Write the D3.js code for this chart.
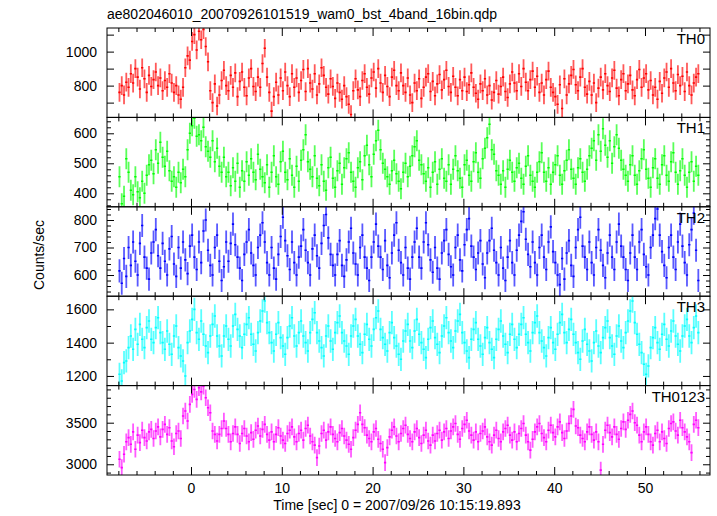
<!DOCTYPE html>
<html><head><meta charset="utf-8">
<script src="https://cdn.jsdelivr.net/npm/d3@7"></script>
<style>body{margin:0;background:#fff}svg{display:block}</style>
</head><body>
<script>
const title = "ae802046010_20070926101519_wam0_bst_4band_16bin.qdp";
const xLabel = "Time [sec] 0 = 2007/09/26 10:15:19.893";
const yLabel = "Counts/sec";
const bandNames = ["TH0", "TH1", "TH2", "TH3", "TH0123"];
const bandColors = ["#ff0000", "#00ff00", "#0000ff", "#00ffff", "#ff00ff"];
const binStart = -8, binSize = 0.25;

const th0 = [
760,800,745,820,790,870,815,900,850,780,905,840,760,860,795,835,
880,800,845,770,830,790,870,815,760,800,745,720,790,905,975,950,
1060,1100,1010,1120,1070,1130,1030,940,770,700,810,680,745,830,890,800,
770,860,790,875,735,825,880,790,740,845,900,795,765,850,790,930,
1020,850,760,650,735,820,745,845,770,880,800,735,870,790,845,760,
830,895,765,900,815,780,870,745,810,905,860,790,750,840,795,725,
815,760,720,800,735,690,630,770,840,775,735,830,870,790,750,845,
880,785,900,815,760,860,795,735,850,890,800,770,875,800,760,845,
745,700,815,770,840,725,790,850,870,765,825,740,810,865,775,835,
890,795,760,855,790,740,835,770,850,765,805,875,790,755,720,810,
770,840,745,800,715,760,830,750,795,850,765,730,810,880,815,770,
870,795,900,820,770,835,885,790,855,760,815,745,835,885,790,760,
735,690,805,665,840,745,810,860,895,805,770,850,900,790,750,825,
745,815,700,785,850,775,870,800,765,845,890,785,740,835,870,770,
810,860,775,740,835,895,790,845,870,775,830,745,790,720,825,755,
845,880,790,900,815,770,865,800,855,765,880,800,745,815,850,870];

const th1 = [
455,365,390,515,470,410,395,455,405,385,440,400,460,495,510,465,
545,500,570,520,490,540,475,440,455,420,470,435,480,455,545,600,
625,650,590,595,575,620,555,540,520,575,505,550,490,470,520,455,
470,425,485,440,500,420,475,440,505,460,515,470,445,530,480,455,
435,495,420,470,525,455,430,505,540,470,445,515,460,420,490,440,
510,545,595,505,480,455,525,450,425,495,440,410,485,520,450,420,
475,500,430,485,515,535,470,440,420,485,505,445,525,560,495,455,
530,575,610,545,500,480,455,430,475,510,465,440,415,470,500,455,
490,525,555,575,510,495,465,440,485,420,470,505,430,480,515,450,
440,495,430,480,525,475,450,420,495,510,460,440,505,535,470,450,
515,550,585,630,545,530,475,460,430,475,420,480,510,470,440,485,
500,450,430,490,525,460,440,420,470,505,535,470,440,485,430,470,
495,525,460,430,475,510,545,480,450,430,485,515,470,440,480,525,
550,575,510,595,540,615,560,520,575,500,555,595,550,510,480,460,
440,495,525,460,430,475,515,545,480,450,420,485,515,450,430,495,
525,460,440,505,535,470,430,475,515,460,420,470,505,440,490,460];

const th2 = [
615,570,660,595,700,635,720,650,600,715,780,665,625,585,680,720,
765,670,625,715,650,600,695,740,640,595,700,625,720,655,605,705,
745,665,620,720,645,760,800,690,635,600,700,745,650,580,630,720,
650,715,785,710,665,625,580,675,720,765,680,635,600,700,745,790,
720,645,600,700,625,585,675,740,810,725,670,620,720,645,600,665,
705,765,690,645,600,695,745,670,625,715,780,820,735,675,635,600,
675,725,635,595,655,720,770,680,640,600,700,745,665,625,580,665,
720,785,705,665,620,725,635,590,680,745,790,690,645,600,700,625,
585,665,720,770,665,625,720,790,710,655,610,700,625,585,680,725,
765,675,630,600,700,745,655,615,710,765,805,705,665,620,680,725,
640,590,680,725,770,690,645,600,700,625,580,665,725,645,600,690,
745,795,830,730,675,630,720,645,600,700,745,665,620,720,775,685,
645,600,565,660,585,680,725,635,595,700,765,810,705,665,620,720,
645,600,700,765,690,635,590,680,745,665,620,720,785,705,665,620,
580,680,745,665,620,720,765,675,630,600,700,745,805,840,745,685,
635,590,700,745,665,620,720,785,705,645,600,710,765,825,690,580];

const th3 = [
1210,1170,1280,1290,1370,1440,1360,1480,1390,1510,1420,1370,1490,1530,1420,1400,
1490,1550,1460,1400,1360,1470,1390,1330,1440,1500,1370,1320,1290,1200,1400,1470,
1540,1600,1460,1420,1530,1450,1380,1340,1440,1510,1560,1440,1380,1320,1440,1500,
1420,1380,1500,1570,1480,1440,1370,1450,1510,1550,1450,1390,1350,1460,1530,1590,
1650,1520,1460,1400,1350,1450,1520,1430,1380,1330,1430,1500,1550,1440,1380,1460,
1530,1440,1400,1350,1460,1540,1580,1460,1410,1370,1320,1440,1500,1410,1360,1460,
1520,1560,1460,1410,1380,1330,1440,1500,1540,1440,1390,1340,1450,1510,1420,1380,
1480,1550,1590,1480,1430,1390,1350,1460,1520,1430,1380,1330,1300,1410,1470,1510,
1410,1370,1470,1540,1450,1400,1360,1310,1420,1490,1530,1430,1390,1340,1440,1500,
1550,1460,1410,1370,1470,1530,1570,1460,1400,1350,1310,1420,1480,1520,1420,1380,
1330,1430,1490,1400,1360,1310,1420,1480,1530,1440,1390,1340,1450,1510,1420,1370,
1450,1510,1550,1450,1400,1350,1460,1520,1560,1460,1410,1370,1320,1430,1490,1400,
1360,1450,1520,1570,1460,1400,1480,1540,1450,1400,1340,1300,1410,1480,1390,1350,
1290,1400,1470,1380,1340,1430,1490,1530,1430,1380,1330,1440,1500,1410,1370,1460,
1530,1590,1650,1520,1450,1390,1340,1270,1210,1260,1370,1430,1490,1400,1360,1450,
1510,1420,1380,1470,1530,1440,1390,1350,1440,1500,1540,1440,1400,1490,1560,1460];

const th0123 = [
3060,2960,3120,3270,3320,3240,3390,3180,3350,3260,3410,3320,3280,3390,3420,3310,
3400,3450,3330,3420,3480,3360,3440,3280,3210,3370,3400,3310,3580,3640,3520,3720,
3840,3900,3780,3920,3870,3940,3800,3680,3620,3400,3360,3280,3360,3430,3520,3430,
3360,3270,3370,3450,3360,3250,3370,3430,3340,3270,3380,3300,3410,3460,3340,3420,
3480,3360,3290,3390,3270,3360,3440,3340,3290,3250,3370,3410,3450,3330,3270,3370,
3410,3290,3430,3470,3340,3270,3230,3080,3220,3370,3410,3290,3390,3450,3360,3310,
3270,3380,3430,3340,3290,3240,3180,3320,3410,3480,3620,3480,3440,3350,3310,3270,
3390,3430,3300,3250,3180,3020,3200,3330,3410,3450,3340,3270,3370,3430,3470,3360,
3310,3270,3390,3430,3320,3250,3350,3410,3280,3230,3350,3280,3370,3410,3290,3390,
3430,3310,3400,3450,3490,3360,3300,3430,3480,3530,3400,3350,3290,3390,3270,3370,
3400,3450,3330,3270,3230,3350,3410,3310,3270,3390,3430,3470,3350,3290,3390,3270,
3370,3430,3490,3350,3270,3170,3300,3390,3450,3490,3370,3320,3270,3410,3470,3380,
3330,3450,3510,3380,3310,3400,3490,3580,3660,3460,3440,3350,3310,3270,3390,3450,
3360,3290,3390,3270,2930,3240,3410,3470,3380,3330,3450,3360,3300,3430,3510,3420,
3530,3600,3640,3500,3470,3350,3270,3390,3450,3360,3270,3230,3370,3410,3270,3390,
3310,3250,3430,3490,3510,3400,3350,3530,3440,3390,3330,3270,3140,3480,3530,3440];

const bandValues = [th0, th1, th2, th3, th0123];
const bandErrors = [55, 35, 42, 70, 100];
const yDomains = [[613, 1139], [355, 653], [523, 848], [1142, 1679], [2871, 3946]];
const yLabelTicks = [[800, 1000], [400, 500, 600], [600, 700, 800], [1200, 1400, 1600], [3000, 3500]];
const yMajorStep = [100, 100, 100, 200, 500];
const yMinorStep = [100, 20, 20, 100, 100];
const xDomain = [-9.25, 57.16];
const xMajorTicks = [0, 10, 20, 30, 40, 50];
const xMinorStep = 2;

const W = 717, H = 516;
const L = 107, R = 710, T = 28, B = 475;
const panelH = (B - T) / bandNames.length;
const FONT = "'Liberation Sans', Arial, Helvetica, sans-serif";

const svg = d3.select("body").append("svg").attr("width", W).attr("height", H)
  .style("font-family", FONT);

const x = d3.scaleLinear().domain(xDomain).range([L, R]);
const xMinor = d3.range(-8, 57, xMinorStep).filter(v => !xMajorTicks.includes(v));

function rangeTicks(dom, step) {
  const s = Math.ceil(dom[0] / step) * step;
  return d3.range(s, dom[1] + 1e-9, step);
}

bandNames.forEach((name, p) => {
  const top = T + p * panelH, bot = top + panelH;
  const y = d3.scaleLinear().domain(yDomains[p]).range([bot, top]);
  const g = svg.append("g");
  const clipId = "clip" + p;
  svg.append("clipPath").attr("id", clipId).append("rect")
    .attr("x", L).attr("y", top).attr("width", R - L).attr("height", panelH);

  const data = bandValues[p].map((v, i) => ({ t: binStart + (i + 0.5) * binSize, v }));
  const err = bandErrors[p];
  const col = bandColors[p];
  const dg = g.append("g").attr("clip-path", `url(#${clipId})`);
  dg.selectAll("line.ev").data(data).join("line").attr("class", "ev")
    .attr("x1", d => x(d.t)).attr("x2", d => x(d.t))
    .attr("y1", d => y(d.v - err)).attr("y2", d => y(d.v + err))
    .attr("stroke", col).attr("stroke-width", 1.8).attr("stroke-opacity", 0.65);
  dg.selectAll("line.eh").data(data).join("line").attr("class", "eh")
    .attr("x1", d => x(d.t - binSize / 2)).attr("x2", d => x(d.t + binSize / 2))
    .attr("y1", d => y(d.v)).attr("y2", d => y(d.v))
    .attr("stroke", col).attr("stroke-width", 1.6);

  const axStyle = sel => {
    sel.select(".domain").remove();
    sel.selectAll("line").attr("stroke", "#000");
    sel.attr("font-family", FONT).attr("font-size", 14);
    sel.selectAll("text").attr("fill", "#000");
  };

  const isLast = p === bandNames.length - 1;
  g.append("g").attr("transform", `translate(0,${bot})`)
    .call(d3.axisBottom(x).tickValues(xMajorTicks).tickSize(-8).tickPadding(8)
      .tickFormat(isLast ? d3.format("d") : ""))
    .call(axStyle);
  g.append("g").attr("transform", `translate(0,${bot})`)
    .call(d3.axisBottom(x).tickValues(xMinor).tickSize(-4).tickFormat(""))
    .call(axStyle);
  g.append("g").attr("transform", `translate(0,${top})`)
    .call(d3.axisTop(x).tickValues(xMajorTicks).tickSize(-8).tickFormat(""))
    .call(axStyle);
  g.append("g").attr("transform", `translate(0,${top})`)
    .call(d3.axisTop(x).tickValues(xMinor).tickSize(-4).tickFormat(""))
    .call(axStyle);

  const major = rangeTicks(yDomains[p], yMajorStep[p]);
  const minor = rangeTicks(yDomains[p], yMinorStep[p]).filter(v => !major.some(m => Math.abs(m - v) < 1e-6));
  g.append("g").attr("transform", `translate(${L},0)`)
    .call(d3.axisLeft(y).tickValues(major).tickSize(-7).tickPadding(10)
      .tickFormat(d => yLabelTicks[p].includes(d) ? d3.format("d")(d) : ""))
    .call(axStyle);
  g.append("g").attr("transform", `translate(${L},0)`)
    .call(d3.axisLeft(y).tickValues(minor).tickSize(-4).tickFormat(""))
    .call(axStyle);
  g.append("g").attr("transform", `translate(${R},0)`)
    .call(d3.axisRight(y).tickValues(major).tickSize(-7).tickFormat(""))
    .call(axStyle);
  g.append("g").attr("transform", `translate(${R},0)`)
    .call(d3.axisRight(y).tickValues(minor).tickSize(-4).tickFormat(""))
    .call(axStyle);

  g.append("rect").attr("x", L).attr("y", top).attr("width", R - L).attr("height", panelH)
    .attr("fill", "none").attr("stroke", "#000").attr("stroke-width", 1);

  g.append("text").attr("x", 705).attr("y", top + 16).attr("text-anchor", "end")
    .attr("font-size", 15).attr("fill", "#000").text(name);
});

svg.append("text").attr("x", L).attr("y", 19).attr("font-size", 14).attr("fill", "#000").text(title);
svg.append("text").attr("x", 397).attr("y", 510).attr("text-anchor", "middle")
  .attr("font-size", 14).attr("fill", "#000").text(xLabel);
svg.append("text").attr("transform", "translate(44,255) rotate(-90)").attr("text-anchor", "middle")
  .attr("font-size", 14).attr("fill", "#000").text(yLabel);
</script>
</body></html>
